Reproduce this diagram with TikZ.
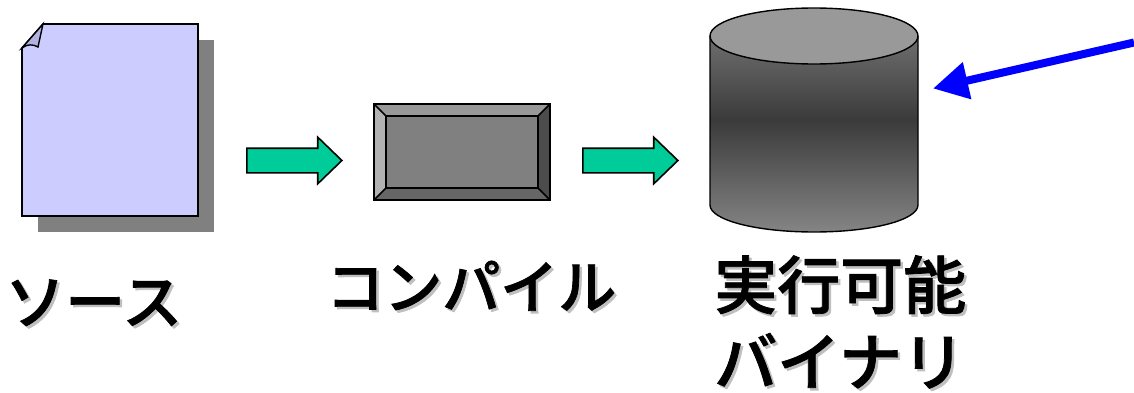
\documentclass[tikz,border=0pt]{standalone}
\usepackage{fontspec}
\usetikzlibrary{shapes.arrows,arrows.meta}
\newfontfamily\jpfont[FakeBold=1.2]{Noto Sans CJK JP Medium}
\definecolor{paper}{HTML}{CCCCFF}
\definecolor{fold}{HTML}{B3B3E0}
\definecolor{green}{HTML}{00CC99}
\tikzset{
  outline/.style={draw=black,line width=1.6pt,line join=miter},
  blockarrow/.style={shape=single arrow,draw=black,fill=green,line width=1.6pt,inner sep=0pt,
    minimum height=95pt,single arrow head extend=11pt,single arrow tip angle=88},
  jplabel/.style={anchor=west,inner sep=0pt,text=black},
  bluearrow/.style={draw={rgb,255:red,0;green,0;blue,255},line width=8pt,
    -{Triangle[length=35pt,width=36pt]}}
}
\newcommand{\shadowtext}[5]{%
  \node[jplabel,font=\fontsize{#3}{#3}\jpfont] (#1) at (#4,#5)
    {\rlap{\kern2.5pt\raisebox{-2.5pt}{\textcolor{black!25}{#2}}}#2};}
\begin{document}
\begin{tikzpicture}[x=1pt,y=-1pt]
\useasboundingbox (0,0) rectangle (1134,393);
% source document
\fill[black!50] (38,40) rectangle (214,232);
\draw[outline,fill=paper] (43,24) -- (198,24) -- (198,216) -- (22,216) -- (22,48) -- cycle;
\draw[outline,fill=fold,line width=1.4pt] (22,48) -- (43,24) -- (38,47) .. controls (33,44) and (27,44) .. (22,48) -- cycle;
% compile block
\fill[black!50] (374,104) rectangle (550,200);
\fill[black!40] (374,104) -- (550,104) -- (538,116) -- (386,116) -- cycle;
\fill[black!30] (374,104) -- (386,116) -- (386,188) -- (374,200) -- cycle;
\fill[black!70] (550,104) -- (538,116) -- (538,188) -- (550,200) -- cycle;
\fill[black!60] (374,200) -- (386,188) -- (538,188) -- (550,200) -- cycle;
\draw[outline] (374,104) rectangle (550,200);
\draw[outline] (386,116) rectangle (538,188);
\draw[outline] (374,104) -- (386,116) (550,104) -- (538,116) (374,200) -- (386,188) (550,200) -- (538,188);
% cylinder
\path[top color=black!50,bottom color=black!48,middle color=black!77]
  (710,36) .. controls (710,20.5) and (756,8) .. (814,8) .. controls (872,8) and (918,20.5) .. (918,36)
  -- (918,205) .. controls (918,220) and (872,232) .. (814,232) .. controls (756,232) and (710,220) .. (710,205) -- cycle;
\draw[black,line width=1.4pt] (710,36) -- (710,205) .. controls (710,220) and (756,232) .. (814,232) .. controls (872,232) and (918,220) .. (918,205) -- (918,36);
\draw[black,line width=1.4pt,fill=black!40] (710,36) .. controls (710,20.5) and (756,8) .. (814,8) .. controls (872,8) and (918,20.5) .. (918,36) .. controls (918,51.5) and (872,64) .. (814,64) .. controls (756,64) and (710,51.5) .. (710,36) -- cycle;
% block arrows
\node[blockarrow] (a1) at (288,160.5) {\rule{0pt}{23pt}};
\node[blockarrow] (a2) at (624,160.5) {\rule{0pt}{23pt}};
% blue arrow
\coordinate (bluestart) at (1134,42.5);
\coordinate (bluetip) at (933,88.5);
\draw[bluearrow] (bluestart) -- (bluetip);
% labels
\shadowtext{src}{ソース}{60}{5}{304}
\shadowtext{cmp}{コンパイル}{58}{326}{287}
\shadowtext{exe}{実行可能}{63}{714}{286}
\shadowtext{bin}{バイナリ}{63}{714}{362}
\end{tikzpicture}
\end{document}
